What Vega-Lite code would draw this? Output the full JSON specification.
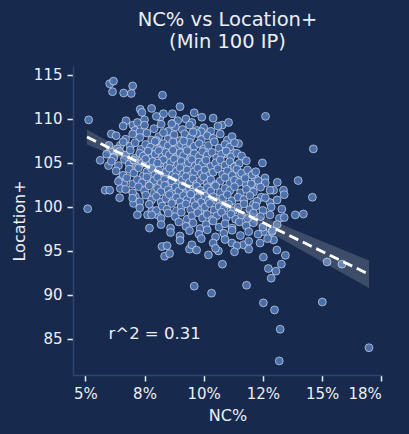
{
  "$schema": "https://vega.github.io/schema/vega-lite/v6.json",
  "width": 309,
  "height": 309,
  "autosize": "none",
  "padding": {"left": 73, "top": 66, "right": 27, "bottom": 59},
  "background": "#172a4d",
  "title": {
    "text": ["NC% vs Location+", "(Min 100 IP)"],
    "fontSize": 19.5,
    "lineHeight": 22,
    "fontWeight": "normal",
    "color": "#eceef2",
    "font": "DejaVu Sans",
    "offset": 14,
    "anchor": "middle"
  },
  "datasets": {
    "players": [
      {"nc": 5.14, "loc": 109.9}, {"nc": 6.03, "loc": 114.0}, {"nc": 6.19, "loc": 114.3}, {"nc": 6.15, "loc": 113.1},
      {"nc": 6.62, "loc": 112.95}, {"nc": 7.0, "loc": 113.75}, {"nc": 6.94, "loc": 112.9}, {"nc": 8.26, "loc": 112.7},
      {"nc": 7.32, "loc": 111.1}, {"nc": 7.39, "loc": 110.75}, {"nc": 6.72, "loc": 109.8}, {"nc": 7.01, "loc": 109.3},
      {"nc": 6.1, "loc": 108.3}, {"nc": 8.16, "loc": 110.2}, {"nc": 8.68, "loc": 110.6}, {"nc": 9.0, "loc": 111.4},
      {"nc": 8.68, "loc": 109.5}, {"nc": 9.25, "loc": 110.0}, {"nc": 9.92, "loc": 110.2}, {"nc": 10.78, "loc": 109.3},
      {"nc": 11.05, "loc": 109.6}, {"nc": 5.63, "loc": 105.3}, {"nc": 5.98, "loc": 104.7}, {"nc": 5.84, "loc": 101.9},
      {"nc": 6.03, "loc": 101.9}, {"nc": 6.48, "loc": 103.1}, {"nc": 6.62, "loc": 102.7}, {"nc": 6.48, "loc": 102.1},
      {"nc": 6.45, "loc": 101.05}, {"nc": 7.11, "loc": 101.2}, {"nc": 7.04, "loc": 100.4}, {"nc": 5.1, "loc": 99.8},
      {"nc": 12.61, "loc": 110.3}, {"nc": 11.47, "loc": 107.2}, {"nc": 11.22, "loc": 106.2}, {"nc": 10.84, "loc": 106.0},
      {"nc": 14.63, "loc": 106.6}, {"nc": 12.48, "loc": 105.0}, {"nc": 11.12, "loc": 105.1}, {"nc": 11.33, "loc": 104.6},
      {"nc": 11.51, "loc": 103.7}, {"nc": 12.17, "loc": 103.3}, {"nc": 12.59, "loc": 103.3}, {"nc": 13.11, "loc": 102.8},
      {"nc": 13.99, "loc": 103.0}, {"nc": 12.35, "loc": 102.5}, {"nc": 12.95, "loc": 101.9}, {"nc": 13.37, "loc": 101.9},
      {"nc": 13.4, "loc": 101.4}, {"nc": 11.78, "loc": 102.6}, {"nc": 12.0, "loc": 102.1}, {"nc": 14.59, "loc": 101.1},
      {"nc": 12.43, "loc": 101.1}, {"nc": 12.1, "loc": 100.3}, {"nc": 12.8, "loc": 100.5}, {"nc": 7.2, "loc": 99.1},
      {"nc": 7.71, "loc": 97.6}, {"nc": 8.24, "loc": 95.5}, {"nc": 8.45, "loc": 95.6}, {"nc": 8.35, "loc": 94.4},
      {"nc": 8.56, "loc": 94.7}, {"nc": 9.4, "loc": 95.2}, {"nc": 10.2, "loc": 94.55}, {"nc": 10.62, "loc": 95.0},
      {"nc": 10.79, "loc": 93.5}, {"nc": 9.6, "loc": 91.0}, {"nc": 10.33, "loc": 90.2}, {"nc": 11.81, "loc": 91.1},
      {"nc": 12.52, "loc": 94.3}, {"nc": 12.73, "loc": 93.0}, {"nc": 13.05, "loc": 92.7}, {"nc": 12.85, "loc": 91.9},
      {"nc": 13.09, "loc": 95.1}, {"nc": 13.45, "loc": 94.5}, {"nc": 13.28, "loc": 93.5}, {"nc": 12.52, "loc": 89.1},
      {"nc": 12.99, "loc": 88.3}, {"nc": 13.23, "loc": 86.1}, {"nc": 13.19, "loc": 82.5}, {"nc": 15.01, "loc": 89.2},
      {"nc": 15.21, "loc": 93.75}, {"nc": 15.84, "loc": 93.5}, {"nc": 16.98, "loc": 84.0}, {"nc": 13.87, "loc": 99.1},
      {"nc": 14.21, "loc": 99.2}, {"nc": 13.2, "loc": 98.7}, {"nc": 12.38, "loc": 95.9}, {"nc": 12.95, "loc": 96.25},
      {"nc": 12.52, "loc": 97.2}, {"nc": 11.19, "loc": 95.9}, {"nc": 11.68, "loc": 95.7}, {"nc": 12.88, "loc": 97.2},
      {"nc": 7.63, "loc": 99.1}, {"nc": 8.05, "loc": 99.1}, {"nc": 7.81, "loc": 99.6}, {"nc": 6.05, "loc": 106.3},
      {"nc": 6.48, "loc": 107.0}, {"nc": 6.19, "loc": 105.7},
      {"nc": 7.8, "loc": 111.2}, {"nc": 9.6, "loc": 110.7}, {"nc": 8.3, "loc": 110.6},
      {"nc": 7.5, "loc": 109.9}, {"nc": 8.0, "loc": 110.3}, {"nc": 8.9, "loc": 109.8}, {"nc": 9.5, "loc": 109.6}, {"nc": 10.4, "loc": 110.1}, {"nc": 7.2, "loc": 109.6},
      {"nc": 6.6, "loc": 109.2}, {"nc": 7.1, "loc": 108.7}, {"nc": 7.5, "loc": 109.3}, {"nc": 7.9, "loc": 108.9}, {"nc": 8.2, "loc": 109.4}, {"nc": 8.5, "loc": 108.6},
      {"nc": 8.8, "loc": 109.1}, {"nc": 9.1, "loc": 108.8}, {"nc": 9.4, "loc": 109.3}, {"nc": 9.7, "loc": 108.7}, {"nc": 10.0, "loc": 109.0}, {"nc": 10.3, "loc": 108.6},
      {"nc": 10.6, "loc": 109.2}, {"nc": 7.3, "loc": 108.55}, {"nc": 8.65, "loc": 109.45}, {"nc": 9.9, "loc": 108.55},
      {"nc": 6.3, "loc": 108.1}, {"nc": 6.7, "loc": 107.7}, {"nc": 7.0, "loc": 108.3}, {"nc": 7.3, "loc": 107.9}, {"nc": 7.6, "loc": 108.4}, {"nc": 7.8, "loc": 107.6},
      {"nc": 8.1, "loc": 108.0}, {"nc": 8.3, "loc": 108.45}, {"nc": 8.5, "loc": 107.7}, {"nc": 8.75, "loc": 108.2}, {"nc": 9.0, "loc": 107.55}, {"nc": 9.2, "loc": 108.3},
      {"nc": 9.45, "loc": 107.9}, {"nc": 9.7, "loc": 108.35}, {"nc": 9.9, "loc": 107.65}, {"nc": 10.15, "loc": 108.1}, {"nc": 10.4, "loc": 107.8}, {"nc": 10.7, "loc": 108.3},
      {"nc": 11.0, "loc": 107.6}, {"nc": 11.2, "loc": 108.0}, {"nc": 8.0, "loc": 107.55}, {"nc": 9.55, "loc": 108.5},
      {"nc": 6.0, "loc": 107.0}, {"nc": 6.35, "loc": 106.6}, {"nc": 6.6, "loc": 107.4}, {"nc": 6.9, "loc": 106.9}, {"nc": 7.1, "loc": 107.3}, {"nc": 7.35, "loc": 106.55},
      {"nc": 7.55, "loc": 107.1}, {"nc": 7.75, "loc": 106.8}, {"nc": 7.95, "loc": 107.45}, {"nc": 8.15, "loc": 106.7}, {"nc": 8.3, "loc": 107.2}, {"nc": 8.5, "loc": 106.95},
      {"nc": 8.7, "loc": 107.4}, {"nc": 8.85, "loc": 106.6}, {"nc": 9.05, "loc": 107.1}, {"nc": 9.25, "loc": 106.75}, {"nc": 9.4, "loc": 107.35}, {"nc": 9.6, "loc": 106.9},
      {"nc": 9.8, "loc": 107.2}, {"nc": 10.0, "loc": 106.6}, {"nc": 10.2, "loc": 107.0}, {"nc": 10.45, "loc": 107.4}, {"nc": 10.65, "loc": 106.7}, {"nc": 10.9, "loc": 107.1},
      {"nc": 11.1, "loc": 106.8}, {"nc": 11.3, "loc": 107.3}, {"nc": 8.0, "loc": 106.55}, {"nc": 9.15, "loc": 107.5},
      {"nc": 5.9, "loc": 106.0}, {"nc": 6.2, "loc": 105.6}, {"nc": 6.45, "loc": 106.3}, {"nc": 6.7, "loc": 105.9}, {"nc": 6.9, "loc": 106.45}, {"nc": 7.1, "loc": 105.55},
      {"nc": 7.3, "loc": 106.1}, {"nc": 7.45, "loc": 105.8}, {"nc": 7.65, "loc": 106.35}, {"nc": 7.8, "loc": 105.6}, {"nc": 7.95, "loc": 106.0}, {"nc": 8.1, "loc": 106.4},
      {"nc": 8.25, "loc": 105.7}, {"nc": 8.4, "loc": 106.2}, {"nc": 8.55, "loc": 105.95}, {"nc": 8.7, "loc": 106.45}, {"nc": 8.85, "loc": 105.65}, {"nc": 9.0, "loc": 106.15},
      {"nc": 9.15, "loc": 105.85}, {"nc": 9.3, "loc": 106.4}, {"nc": 9.45, "loc": 105.55}, {"nc": 9.6, "loc": 106.05}, {"nc": 9.8, "loc": 105.75}, {"nc": 9.95, "loc": 106.3},
      {"nc": 10.15, "loc": 105.9}, {"nc": 10.35, "loc": 106.2}, {"nc": 10.55, "loc": 105.6}, {"nc": 10.75, "loc": 106.0}, {"nc": 10.95, "loc": 106.35}, {"nc": 11.15, "loc": 105.7},
      {"nc": 11.4, "loc": 106.1}, {"nc": 11.6, "loc": 105.8},
      {"nc": 6.1, "loc": 105.2}, {"nc": 6.4, "loc": 104.7}, {"nc": 6.65, "loc": 105.4}, {"nc": 6.85, "loc": 104.9}, {"nc": 7.05, "loc": 105.3}, {"nc": 7.2, "loc": 104.6},
      {"nc": 7.4, "loc": 105.0}, {"nc": 7.55, "loc": 105.45}, {"nc": 7.7, "loc": 104.75}, {"nc": 7.85, "loc": 105.15}, {"nc": 8.0, "loc": 104.55}, {"nc": 8.15, "loc": 104.95},
      {"nc": 8.3, "loc": 105.35}, {"nc": 8.45, "loc": 104.65}, {"nc": 8.6, "loc": 105.05}, {"nc": 8.75, "loc": 105.45}, {"nc": 8.9, "loc": 104.8}, {"nc": 9.05, "loc": 105.2},
      {"nc": 9.2, "loc": 104.6}, {"nc": 9.35, "loc": 105.0}, {"nc": 9.5, "loc": 105.4}, {"nc": 9.65, "loc": 104.7}, {"nc": 9.8, "loc": 105.1}, {"nc": 9.95, "loc": 104.85},
      {"nc": 10.1, "loc": 105.3}, {"nc": 10.3, "loc": 104.6}, {"nc": 10.5, "loc": 105.0}, {"nc": 10.7, "loc": 105.35}, {"nc": 10.9, "loc": 104.75}, {"nc": 11.1, "loc": 105.15},
      {"nc": 11.3, "loc": 104.55}, {"nc": 11.5, "loc": 104.95}, {"nc": 11.8, "loc": 105.25}, {"nc": 8.05, "loc": 105.0},
      {"nc": 6.3, "loc": 104.1}, {"nc": 6.6, "loc": 103.6}, {"nc": 6.85, "loc": 104.3}, {"nc": 7.05, "loc": 103.85}, {"nc": 7.25, "loc": 104.45}, {"nc": 7.45, "loc": 103.55},
      {"nc": 7.6, "loc": 104.0}, {"nc": 7.8, "loc": 104.35}, {"nc": 7.95, "loc": 103.7}, {"nc": 8.1, "loc": 104.15}, {"nc": 8.25, "loc": 103.55}, {"nc": 8.4, "loc": 103.95},
      {"nc": 8.55, "loc": 104.4}, {"nc": 8.7, "loc": 103.65}, {"nc": 8.85, "loc": 104.05}, {"nc": 9.0, "loc": 104.45}, {"nc": 9.15, "loc": 103.75}, {"nc": 9.3, "loc": 104.2},
      {"nc": 9.45, "loc": 103.6}, {"nc": 9.6, "loc": 104.0}, {"nc": 9.75, "loc": 104.4}, {"nc": 9.9, "loc": 103.8}, {"nc": 10.05, "loc": 104.2}, {"nc": 10.2, "loc": 103.55},
      {"nc": 10.4, "loc": 103.95}, {"nc": 10.6, "loc": 104.35}, {"nc": 10.8, "loc": 103.7}, {"nc": 11.0, "loc": 104.1}, {"nc": 11.2, "loc": 103.6}, {"nc": 11.4, "loc": 104.3},
      {"nc": 11.6, "loc": 103.85}, {"nc": 11.85, "loc": 104.2}, {"nc": 12.05, "loc": 103.65}, {"nc": 12.2, "loc": 104.0},
      {"nc": 6.4, "loc": 102.9}, {"nc": 6.75, "loc": 103.3}, {"nc": 7.0, "loc": 102.6}, {"nc": 7.2, "loc": 103.1}, {"nc": 7.4, "loc": 102.75}, {"nc": 7.6, "loc": 103.4},
      {"nc": 7.75, "loc": 102.55}, {"nc": 7.9, "loc": 103.0}, {"nc": 8.05, "loc": 103.35}, {"nc": 8.2, "loc": 102.7}, {"nc": 8.35, "loc": 103.15}, {"nc": 8.5, "loc": 102.55},
      {"nc": 8.65, "loc": 102.95}, {"nc": 8.8, "loc": 103.4}, {"nc": 8.95, "loc": 102.65}, {"nc": 9.1, "loc": 103.05}, {"nc": 9.25, "loc": 103.45}, {"nc": 9.4, "loc": 102.8},
      {"nc": 9.55, "loc": 103.2}, {"nc": 9.7, "loc": 102.6}, {"nc": 9.85, "loc": 103.0}, {"nc": 10.0, "loc": 103.4}, {"nc": 10.15, "loc": 102.7}, {"nc": 10.3, "loc": 103.1},
      {"nc": 10.5, "loc": 102.55}, {"nc": 10.7, "loc": 102.95}, {"nc": 10.9, "loc": 103.35}, {"nc": 11.1, "loc": 102.65}, {"nc": 11.3, "loc": 103.05}, {"nc": 11.5, "loc": 102.8},
      {"nc": 11.75, "loc": 103.25}, {"nc": 12.0, "loc": 102.6}, {"nc": 12.3, "loc": 103.0}, {"nc": 12.6, "loc": 102.75},
      {"nc": 6.7, "loc": 102.0}, {"nc": 7.0, "loc": 101.6}, {"nc": 7.25, "loc": 102.3}, {"nc": 7.5, "loc": 101.85}, {"nc": 7.7, "loc": 102.4}, {"nc": 7.9, "loc": 101.55},
      {"nc": 8.05, "loc": 102.1}, {"nc": 8.2, "loc": 101.75}, {"nc": 8.35, "loc": 102.45}, {"nc": 8.5, "loc": 101.95}, {"nc": 8.65, "loc": 101.6}, {"nc": 8.8, "loc": 102.25},
      {"nc": 8.95, "loc": 101.8}, {"nc": 9.1, "loc": 102.4}, {"nc": 9.25, "loc": 101.55}, {"nc": 9.4, "loc": 102.05}, {"nc": 9.55, "loc": 101.7}, {"nc": 9.7, "loc": 102.35},
      {"nc": 9.85, "loc": 101.9}, {"nc": 10.0, "loc": 101.55}, {"nc": 10.15, "loc": 102.2}, {"nc": 10.3, "loc": 101.8}, {"nc": 10.5, "loc": 102.4}, {"nc": 10.7, "loc": 101.65},
      {"nc": 10.9, "loc": 102.1}, {"nc": 11.1, "loc": 101.85}, {"nc": 11.3, "loc": 102.3}, {"nc": 11.55, "loc": 101.6}, {"nc": 11.8, "loc": 102.0}, {"nc": 12.1, "loc": 101.7},
      {"nc": 12.4, "loc": 102.25}, {"nc": 12.8, "loc": 101.9},
      {"nc": 7.0, "loc": 101.0}, {"nc": 7.3, "loc": 100.6}, {"nc": 7.55, "loc": 101.35}, {"nc": 7.8, "loc": 100.8}, {"nc": 8.0, "loc": 101.2}, {"nc": 8.2, "loc": 100.55},
      {"nc": 8.4, "loc": 100.95}, {"nc": 8.55, "loc": 101.4}, {"nc": 8.7, "loc": 100.7}, {"nc": 8.85, "loc": 101.1}, {"nc": 9.0, "loc": 100.6}, {"nc": 9.15, "loc": 101.3},
      {"nc": 9.3, "loc": 100.85}, {"nc": 9.45, "loc": 101.45}, {"nc": 9.6, "loc": 100.65}, {"nc": 9.75, "loc": 101.05}, {"nc": 9.9, "loc": 100.55}, {"nc": 10.05, "loc": 101.25},
      {"nc": 10.2, "loc": 100.75}, {"nc": 10.4, "loc": 101.15}, {"nc": 10.6, "loc": 100.6}, {"nc": 10.8, "loc": 101.0}, {"nc": 11.0, "loc": 101.4}, {"nc": 11.2, "loc": 100.7},
      {"nc": 11.45, "loc": 101.1}, {"nc": 11.7, "loc": 100.85}, {"nc": 11.95, "loc": 101.3}, {"nc": 12.25, "loc": 100.65}, {"nc": 12.6, "loc": 101.05}, {"nc": 13.1, "loc": 100.8},
      {"nc": 7.3, "loc": 99.9}, {"nc": 7.7, "loc": 100.3}, {"nc": 8.0, "loc": 99.6}, {"nc": 8.25, "loc": 100.1}, {"nc": 8.45, "loc": 99.75}, {"nc": 8.65, "loc": 100.4},
      {"nc": 8.85, "loc": 99.55}, {"nc": 9.05, "loc": 100.0}, {"nc": 9.25, "loc": 100.35}, {"nc": 9.45, "loc": 99.7}, {"nc": 9.65, "loc": 100.15}, {"nc": 9.85, "loc": 99.6},
      {"nc": 10.05, "loc": 100.0}, {"nc": 10.25, "loc": 100.4}, {"nc": 10.45, "loc": 99.65}, {"nc": 10.65, "loc": 100.05}, {"nc": 10.85, "loc": 99.8}, {"nc": 11.05, "loc": 100.3},
      {"nc": 11.25, "loc": 99.55}, {"nc": 11.45, "loc": 99.95}, {"nc": 11.7, "loc": 100.35}, {"nc": 11.95, "loc": 99.7}, {"nc": 12.2, "loc": 100.1}, {"nc": 12.5, "loc": 99.6},
      {"nc": 12.85, "loc": 100.0}, {"nc": 13.3, "loc": 99.75},
      {"nc": 7.8, "loc": 99.1}, {"nc": 8.2, "loc": 98.7}, {"nc": 8.5, "loc": 99.3}, {"nc": 8.8, "loc": 98.9}, {"nc": 9.05, "loc": 99.4}, {"nc": 9.3, "loc": 98.6},
      {"nc": 9.5, "loc": 99.0}, {"nc": 9.75, "loc": 99.35}, {"nc": 9.95, "loc": 98.75}, {"nc": 10.15, "loc": 99.15}, {"nc": 10.35, "loc": 98.55}, {"nc": 10.55, "loc": 99.0},
      {"nc": 10.75, "loc": 99.4}, {"nc": 10.95, "loc": 98.8}, {"nc": 11.15, "loc": 99.2}, {"nc": 11.35, "loc": 98.6}, {"nc": 11.6, "loc": 99.05}, {"nc": 11.85, "loc": 98.7},
      {"nc": 12.1, "loc": 99.3}, {"nc": 12.4, "loc": 98.9}, {"nc": 12.8, "loc": 99.1}, {"nc": 13.4, "loc": 98.8},
      {"nc": 8.2, "loc": 98.0}, {"nc": 8.6, "loc": 97.6}, {"nc": 8.95, "loc": 98.3}, {"nc": 9.25, "loc": 97.8}, {"nc": 9.55, "loc": 98.2}, {"nc": 9.85, "loc": 97.55},
      {"nc": 10.1, "loc": 98.0}, {"nc": 10.4, "loc": 98.4}, {"nc": 10.65, "loc": 97.7}, {"nc": 10.9, "loc": 98.1}, {"nc": 11.2, "loc": 97.6}, {"nc": 11.5, "loc": 98.3},
      {"nc": 11.8, "loc": 97.85}, {"nc": 12.1, "loc": 98.2}, {"nc": 12.5, "loc": 97.7}, {"nc": 13.1, "loc": 98.0},
      {"nc": 8.6, "loc": 97.1}, {"nc": 9.0, "loc": 96.7}, {"nc": 9.4, "loc": 97.3}, {"nc": 9.8, "loc": 96.9}, {"nc": 10.15, "loc": 97.4}, {"nc": 10.5, "loc": 96.6},
      {"nc": 10.85, "loc": 97.0}, {"nc": 11.2, "loc": 97.35}, {"nc": 11.55, "loc": 96.75}, {"nc": 11.9, "loc": 97.2}, {"nc": 12.3, "loc": 96.9}, {"nc": 12.9, "loc": 97.3},
      {"nc": 9.0, "loc": 96.2}, {"nc": 9.5, "loc": 95.7}, {"nc": 9.9, "loc": 96.4}, {"nc": 10.4, "loc": 95.9}, {"nc": 10.9, "loc": 96.3}, {"nc": 11.4, "loc": 95.6},
      {"nc": 11.9, "loc": 96.1}, {"nc": 12.7, "loc": 96.4},
      {"nc": 9.7, "loc": 95.1}, {"nc": 10.5, "loc": 95.3}, {"nc": 11.3, "loc": 94.9}, {"nc": 11.9, "loc": 95.2}
    ],
    "fit": [
      {"nc": 5.07, "fit": 107.95, "lo": 107.1, "hi": 108.8},
      {"nc": 6, "fit": 106.73, "lo": 106.06, "hi": 107.4},
      {"nc": 7, "fit": 105.42, "lo": 104.93, "hi": 105.91},
      {"nc": 8, "fit": 104.11, "lo": 103.78, "hi": 104.44},
      {"nc": 9, "fit": 102.8, "lo": 102.57, "hi": 103.03},
      {"nc": 10, "fit": 101.49, "lo": 101.22, "hi": 101.76},
      {"nc": 11, "fit": 100.18, "lo": 99.76, "hi": 100.6},
      {"nc": 12, "fit": 98.87, "lo": 98.28, "hi": 99.46},
      {"nc": 13, "fit": 97.56, "lo": 96.78, "hi": 98.34},
      {"nc": 14, "fit": 96.25, "lo": 95.28, "hi": 97.22},
      {"nc": 15, "fit": 94.94, "lo": 93.78, "hi": 96.1},
      {"nc": 16, "fit": 93.63, "lo": 92.27, "hi": 94.99},
      {"nc": 16.98, "fit": 92.35, "lo": 90.8, "hi": 93.9}
    ],
    "note": [
      {"nc": 5.98, "loc": 85.6, "label": "r^2 = 0.31"}
    ]
  },
  "layer": [
    {
      "data": {"name": "players"},
      "mark": {
        "type": "point",
        "filled": true,
        "size": 62,
        "color": "#4c72b0",
        "opacity": 0.95,
        "stroke": "#dce4f2",
        "strokeWidth": 0.7
      },
      "encoding": {
        "x": {"field": "nc", "type": "quantitative"},
        "y": {"field": "loc", "type": "quantitative"}
      }
    },
    {
      "data": {"name": "fit"},
      "mark": {"type": "area", "color": "#ffffff", "opacity": 0.16},
      "encoding": {
        "x": {"field": "nc", "type": "quantitative"},
        "y": {"field": "lo", "type": "quantitative"},
        "y2": {"field": "hi"}
      }
    },
    {
      "data": {"name": "fit"},
      "mark": {"type": "line", "color": "#ffffff", "strokeWidth": 2.8, "strokeDash": [10, 5]},
      "encoding": {
        "x": {"field": "nc", "type": "quantitative"},
        "y": {"field": "fit", "type": "quantitative"}
      }
    },
    {
      "data": {"name": "note"},
      "mark": {"type": "text", "align": "left", "baseline": "middle", "fontSize": 16.5, "color": "#eceef2", "font": "DejaVu Sans"},
      "encoding": {
        "x": {"field": "nc", "type": "quantitative"},
        "y": {"field": "loc", "type": "quantitative"},
        "text": {"field": "label"}
      }
    }
  ],
  "resolve": {"scale": {"x": "shared", "y": "shared"}},
  "encoding": {
    "x": {
      "field": "nc",
      "type": "quantitative",
      "title": "NC%",
      "scale": {"domain": [4.48, 17.53], "nice": false, "zero": false},
      "axis": {
        "values": [5, 7.5, 10, 12.5, 15, 17.5],
        "labelExpr": "datum.value == 7.5 ? '8%' : datum.value == 12.5 ? '12%' : datum.value == 17.5 ? '18%' : datum.value + '%'"
      }
    },
    "y": {
      "field": "loc",
      "type": "quantitative",
      "title": "Location+",
      "scale": {"domain": [80.9, 116.02], "nice": false, "zero": false},
      "axis": {"values": [85, 90, 95, 100, 105, 110, 115]}
    }
  },
  "config": {
    "view": {"stroke": null},
    "font": "DejaVu Sans",
    "axis": {
      "grid": false,
      "domainColor": "#2d4574",
      "domainWidth": 1.5,
      "tickColor": "#eceef2",
      "tickWidth": 1.5,
      "tickSize": 6,
      "labelColor": "#eceef2",
      "labelFont": "DejaVu Sans",
      "labelFontSize": 15,
      "labelPadding": 5,
      "titleColor": "#eceef2",
      "titleFont": "DejaVu Sans",
      "titleFontSize": 16,
      "titleFontWeight": "normal",
      "titlePadding": 6
    }
  }
}
